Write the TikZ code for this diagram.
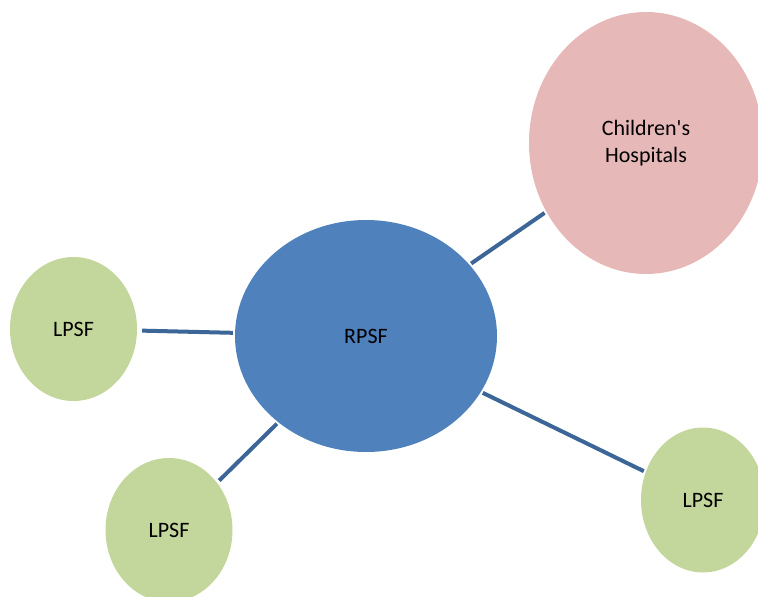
\documentclass[tikz,border=0pt]{standalone}
\usepackage{fontspec}
\setmainfont{Carlito}[Ligatures=ResetAll]
\usetikzlibrary{shapes.geometric}
\definecolor{hubblue}{HTML}{4F81BD}
\definecolor{leafgreen}{HTML}{C3D69B}
\definecolor{hosppink}{HTML}{E6B9B8}
\definecolor{linkblue}{HTML}{3C6697}

\begin{document}
\begin{tikzpicture}[x=1pt, y=-1pt,
	blob/.style={ellipse, inner sep=0pt, font=\fontsize{22}{26.5}\selectfont, align=center, text=black},
	link/.style={line width=4pt, color=linkblue, shorten <=2pt, shorten >=2pt}]
			%%%%% START %%%%%
			
			\clip (0, 0) rectangle (758, 597);
			
			\node[blob, fill=hubblue, minimum width=262pt, minimum height=232pt] (rpsf) at (366, 336) {RPSF};
			\node[blob, fill=hosppink, minimum width=234pt, minimum height=262pt] (hosp) at (646, 143) {Children\textquotesingle s\\Hospitals};
			
			\node[blob, fill=leafgreen, minimum width=127pt, minimum height=144pt] (lpsfw) at (73.5, 329) {LPSF};
			\node[blob, fill=leafgreen, minimum width=127pt, minimum height=144pt] (lpsfs) at (169, 530) {LPSF};
			\node[blob, fill=leafgreen, minimum width=124pt, minimum height=145pt] (lpsfe) at (703, 500) {LPSF};
			
			\draw[link] (rpsf) -- (hosp);
			\draw[link, shorten >=5pt] (rpsf) -- (lpsfw);
			\draw[link, shorten >=3pt] (rpsf) -- (lpsfs);
			\draw[link] (rpsf) -- (lpsfe);
			
			%%%%% END %%%%%
\end{tikzpicture}
\end{document}
